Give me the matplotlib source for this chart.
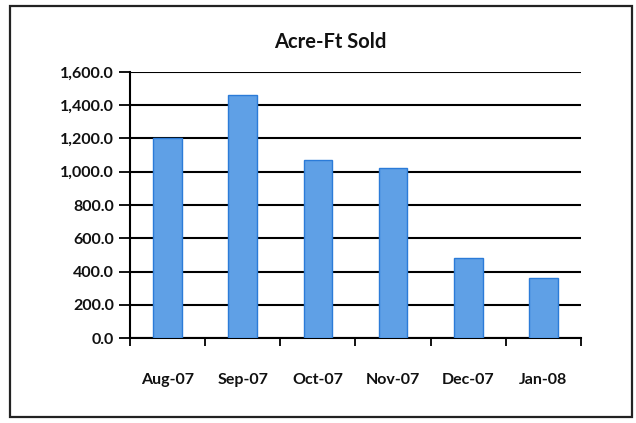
import matplotlib.pyplot as plt
from matplotlib.patches import Rectangle
from matplotlib.ticker import FuncFormatter

months = ['Aug-07', 'Sep-07', 'Oct-07', 'Nov-07', 'Dec-07', 'Jan-08']
acre_ft = [1200, 1460, 1070, 1020, 480, 360]

plt.rcParams['font.family'] = ['Lato', 'DejaVu Sans']

fig = plt.figure(figsize=(6.36, 4.23), dpi=100)
ax = fig.add_axes([130 / 636, 1 - 338 / 423, 451 / 636, 266 / 423])

# outer frame of the chart box
fig.patches.append(Rectangle((10 / 636, 6 / 423), 622 / 636, 411 / 423,
                             transform=fig.transFigure, fill=False,
                             edgecolor='#222222', linewidth=1.6))

x = range(len(months))
ax.bar(x, acre_ft, width=0.38, color='#5FA0E6', edgecolor='#2B7BD8', linewidth=1.0, zorder=3)

ax.set_xlim(-0.5, len(months) - 0.5)
ax.set_ylim(0, 1600)
ax.set_yticks(range(0, 1601, 200))
ax.yaxis.set_major_formatter(FuncFormatter(lambda v, p: f'{v:,.1f}'))
ax.yaxis.grid(True, color='black', linewidth=1.5, zorder=1)

ax.set_xticks([i - 0.5 for i in range(len(months) + 1)], minor=False)
ax.set_xticklabels([])
ax.set_xticks(list(x), minor=True)
ax.set_xticklabels(months, minor=True)
ax.tick_params(axis='x', which='major', length=6, width=1.3, direction='out')
ax.tick_params(axis='x', which='minor', length=0, pad=25, labelsize=11.5)
ax.tick_params(axis='y', length=8, width=1.3, direction='out', labelsize=11.5)
for lbl in ax.get_xticklabels(minor=True) + ax.get_yticklabels():
    lbl.set_fontweight('bold')
    lbl.set_color('#111111')

for side in ['top', 'right']:
    ax.spines[side].set_visible(False)
ax.spines['left'].set_linewidth(1.5)
ax.spines['bottom'].set_linewidth(1.5)

fig.text(330 / 636, 1 - 42 / 423, 'Acre-Ft Sold', ha='center', va='center',
         fontsize=14.5, fontweight='bold', color='#111111')

plt.savefig('out.png', dpi=100)
